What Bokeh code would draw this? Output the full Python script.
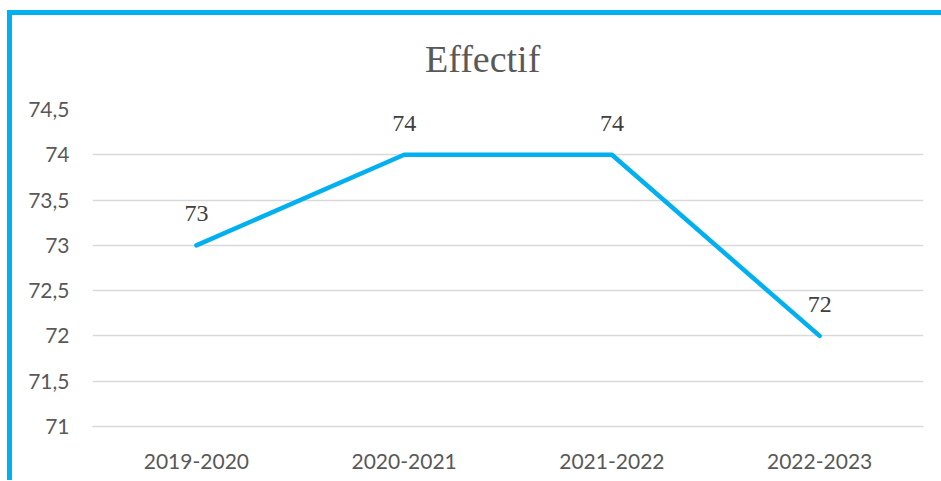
from bokeh.plotting import figure
from bokeh.models import Range1d, FixedTicker, ColumnDataSource, Div, Spacer
from bokeh.layouts import row, column
from bokeh.core.properties import value
from bokeh.embed import file_html
from bokeh.resources import INLINE

title_text = "Effectif"
categories = ["2019-2020", "2020-2021", "2021-2022", "2022-2023"]
effectif = [73, 74, 74, 72]
data_labels = ["73", "74", "74", "72"]
y_ticks = [71, 71.5, 72, 72.5, 73, 73.5, 74, 74.5]
y_tick_labels = ["71", "71,5", "72", "72,5", "73", "73,5", "74", "74,5"]

BLUE = "#00B0F0"
GREY_TXT = "#595959"

p = figure(x_range=categories, y_range=Range1d(71, 74.5),
           width=928, height=395,
           output_backend="svg", toolbar_location=None,
           min_border_left=80, min_border_right=17,
           min_border_top=24, min_border_bottom=54)
p.outline_line_color = None
p.background_fill_color = "white"
p.border_fill_color = "white"

p.xgrid.grid_line_color = None
p.ygrid.grid_line_color = "#D9D9D9"
p.ygrid.grid_line_width = 1.3

p.yaxis.ticker = FixedTicker(ticks=y_ticks)
p.yaxis.major_label_overrides = {t: l for t, l in zip(y_ticks, y_tick_labels)}
p.yaxis.axis_line_color = None
p.yaxis.major_tick_line_color = None
p.yaxis.minor_tick_line_color = None
p.yaxis.major_label_standoff = 17
p.yaxis.major_label_text_font = "Lato"
p.yaxis.major_label_text_font_size = "21px"
p.yaxis.major_label_text_color = GREY_TXT

p.xaxis.axis_line_color = "#D9D9D9"
p.xaxis.axis_line_width = 1.3
p.xaxis.major_tick_line_color = None
p.xaxis.minor_tick_line_color = None
p.xaxis.major_label_standoff = 21
p.xaxis.major_label_text_font = "Lato"
p.xaxis.major_label_text_font_size = "21px"
p.xaxis.major_label_text_color = GREY_TXT

src = ColumnDataSource(dict(x=categories, y=effectif, lab=data_labels))
p.line("x", "y", source=src, line_width=4.5, line_color=BLUE, line_cap="round")
p.text("x", "y", text="lab", source=src, text_font=value("Liberation Serif"),
       text_font_size="24px", text_color="#404040", text_align="center",
       text_baseline="bottom", y_offset=-24)

title_div = Div(
    text=('<div style="box-sizing:border-box;width:928px;height:70px;'
          'padding-top:23px;padding-left:413px;margin:0;text-align:left;'
          'font-family:\'Liberation Serif\';font-size:38px;line-height:42px;'
          'color:#595959;white-space:nowrap;">' + title_text + '</div>'),
    width=928, height=70, margin=0, styles={"background-color": "white"})

top_bar = Div(text="", width=934, height=5, margin=0, styles={"background-color": BLUE})
left_bar = Div(text="", width=5, height=465, margin=0, styles={"background-color": BLUE})
layout = row(Spacer(width=7, height=10, margin=0),
             column(Spacer(width=10, height=10, margin=0), top_bar,
                    row(left_bar, column(title_div, p, spacing=0, margin=0),
                        spacing=0, margin=0),
                    spacing=0, margin=0),
             spacing=0, margin=0)

open("out.html", "w").write(file_html(layout, INLINE))
